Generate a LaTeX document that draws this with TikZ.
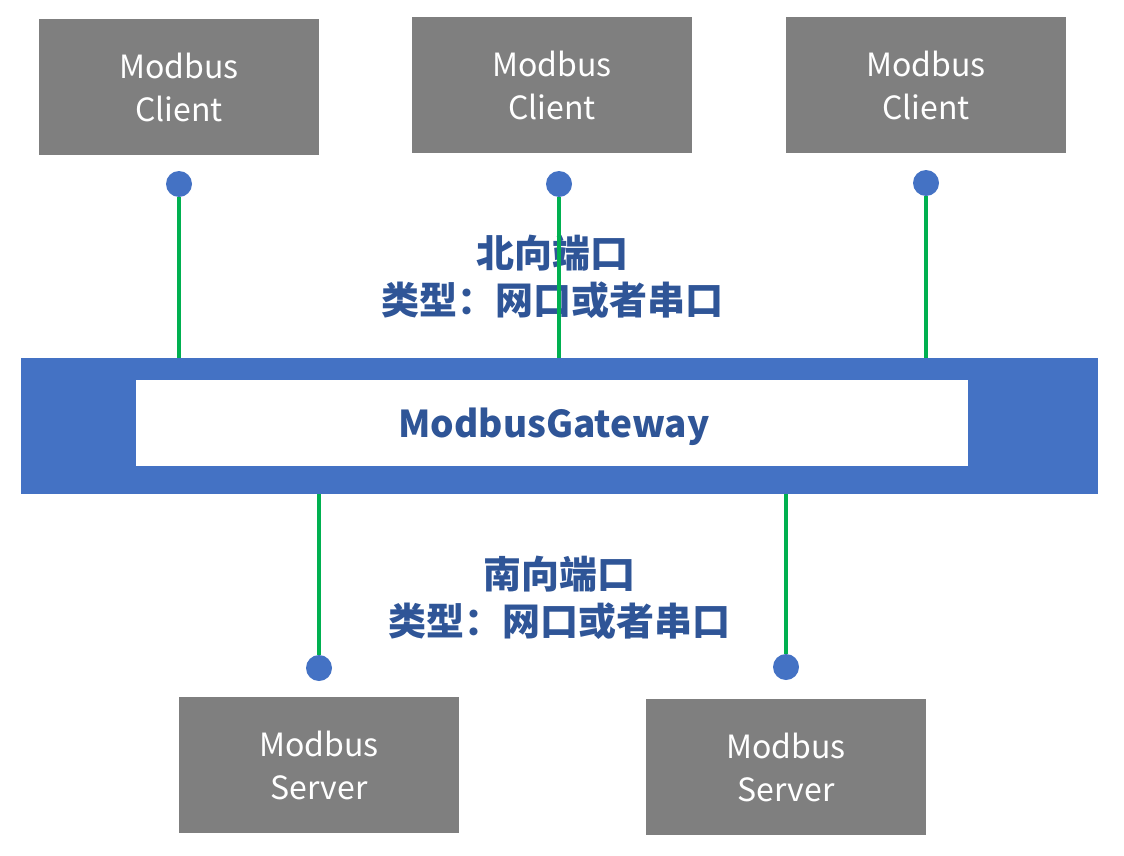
\documentclass[tikz,border=0pt]{standalone}
\usepackage{fontspec}
\setmainfont{Noto Sans CJK SC}
\definecolor{boxgrey}{HTML}{7F7F7F}
\definecolor{barblue}{HTML}{4472C4}
\definecolor{linegreen}{HTML}{00B050}
\definecolor{textblue}{HTML}{2F5597}
\begin{document}
\begin{tikzpicture}[x=1pt,y=-1pt,
  devbox/.style={fill=boxgrey, draw=none, minimum width=280pt, minimum height=136pt, inner sep=0pt,
    text=white, align=center, font=\fontsize{32}{43}\selectfont},
  port/.style={circle, fill=barblue, draw=none, minimum size=26pt, inner sep=0pt},
  conn/.style={draw=linegreen, line width=4.5pt},
  lbl/.style={text=textblue, align=center, font=\fontsize{38}{47}\selectfont\bfseries}
]
\useasboundingbox (0,0) rectangle (1124,856);
% clients
\node[devbox] (c1) at (179,87) {Modbus\\Client};
\node[devbox] (c2) at (552,85) {Modbus\\Client};
\node[devbox] (c3) at (926,85) {Modbus\\Client};
% gateway
\node[fill=barblue, minimum width=1077pt, minimum height=136pt, inner sep=0pt] (bar) at (559.5,426) {};
\node[fill=white, minimum width=832pt, minimum height=86pt, inner sep=0pt] (gw) at (552,423) {};
\node[text=textblue, font=\fontsize{37}{40}\selectfont\bfseries, inner sep=0pt] (gwt) at (554,427) {ModbusGateway};
% servers
\node[devbox] (s1) at (319,765) {Modbus\\Server};
\node[devbox] (s2) at (786,767) {Modbus\\Server};
% ports
\node[port] (p1) at (179,184) {};
\node[port] (p2) at (559,184) {};
\node[port] (p3) at (926,183) {};
\node[port] (q1) at (319,668) {};
\node[port] (q2) at (786,667) {};
% labels
\node[lbl] (north) at (552,277) {北向端口\\类型：网口或者串口};
\node[lbl] (south) at (559,598) {南向端口\\类型：网口或者串口};
% connectors
\draw[conn] (p1.south) -- (p1.south |- bar.north);
\draw[conn] (p2.south) -- (p2.south |- bar.north);
\draw[conn] (p3.south) -- (p3.south |- bar.north);
\draw[conn] (q1.north) -- (q1.north |- bar.south);
\draw[conn] (q2.north) -- (q2.north |- bar.south);
\end{tikzpicture}
\end{document}
